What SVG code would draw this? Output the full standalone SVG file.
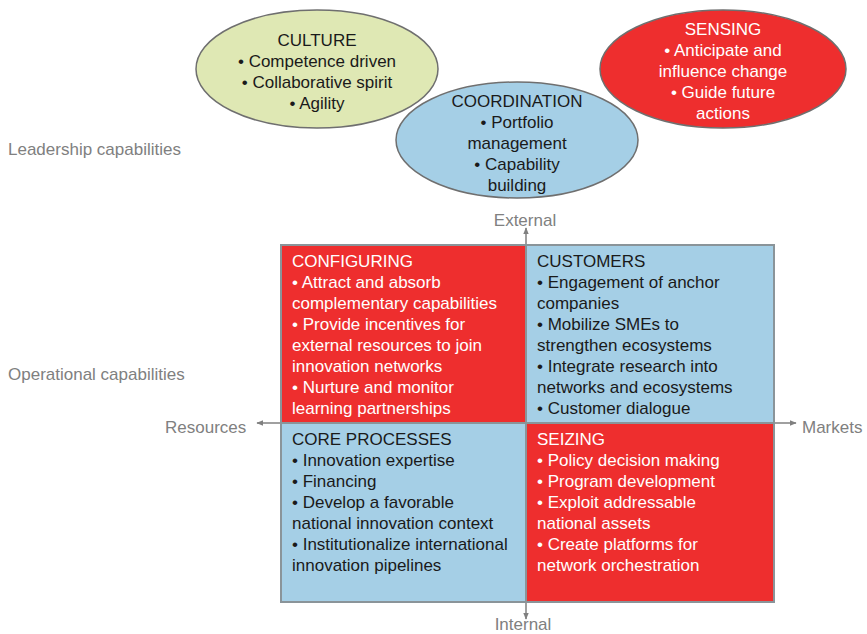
<svg xmlns="http://www.w3.org/2000/svg" width="867" height="634" viewBox="0 0 867 634">
  <defs>
    <marker id="arrow" viewBox="0 0 10 10" refX="9" refY="5" markerWidth="7" markerHeight="7" orient="auto" markerUnits="userSpaceOnUse">
      <path d="M0,1 L10,5 L0,9 z" fill="#808080"/>
    </marker>
    <style>
      text { font-family: "Liberation Sans", Arial, sans-serif; font-size: 17px; }
      .axis { fill: #808080; font-size: 17px; }
      .dark { fill: #1a1a1a; }
      .light { fill: #ffffff; }
      .mid { text-anchor: middle; }
      .ell { stroke: #6f6f6f; stroke-width: 1.5; }
      .quad { stroke: #8a9499; stroke-width: 2; }
      .red { fill: #ee2e2e; }
      .blue { fill: #a5cfe6; }
      .green { fill: #dfe8b4; }
    </style>
  </defs>
  <rect width="867" height="634" fill="#ffffff"/>

  <!-- side labels -->
  <text class="axis" x="8" y="155">Leadership capabilities</text>
  <text class="axis" x="8" y="380">Operational capabilities</text>

  <!-- leadership ellipses -->
  <g id="culture">
    <ellipse class="ell green" cx="317" cy="69" rx="121" ry="59"/>
    <text class="dark mid" x="317" y="46">CULTURE</text>
    <text class="dark mid" x="317" y="67">• Competence driven</text>
    <text class="dark mid" x="317" y="88">• Collaborative spirit</text>
    <text class="dark mid" x="317" y="109">• Agility</text>
  </g>
  <g id="sensing">
    <ellipse class="ell red" cx="723" cy="69" rx="123" ry="59"/>
    <text class="light mid" x="723" y="35">SENSING</text>
    <text class="light mid" x="723" y="56">• Anticipate and</text>
    <text class="light mid" x="723" y="77">influence change</text>
    <text class="light mid" x="723" y="98">• Guide future</text>
    <text class="light mid" x="723" y="119">actions</text>
  </g>
  <g id="coordination">
    <ellipse class="ell blue" cx="517" cy="140" rx="121" ry="58"/>
    <text class="dark mid" x="517" y="107">COORDINATION</text>
    <text class="dark mid" x="517" y="128">• Portfolio</text>
    <text class="dark mid" x="517" y="149">management</text>
    <text class="dark mid" x="517" y="170">• Capability</text>
    <text class="dark mid" x="517" y="191">building</text>
  </g>

  <!-- axes -->
  <g id="connectors" stroke="#808080" stroke-width="1.5" fill="none">
    <line x1="526" y1="423" x2="526" y2="228" marker-end="url(#arrow)"/>
    <line x1="526" y1="423" x2="526" y2="619" marker-end="url(#arrow)"/>
    <line x1="526" y1="423" x2="257" y2="423" marker-end="url(#arrow)"/>
    <line x1="526" y1="423" x2="796" y2="423" marker-end="url(#arrow)"/>
  </g>
  <text class="axis mid" x="525" y="226">External</text>
  <text class="axis mid" x="523" y="630">Internal</text>
  <text class="axis" x="165" y="433">Resources</text>
  <text class="axis" x="802" y="433">Markets</text>

  <!-- operational quadrants -->
  <g id="configuring">
    <rect class="quad red" x="281" y="245" width="245" height="178"/>
    <text class="light" x="292" y="267">CONFIGURING</text>
    <text class="light" x="292" y="288">• Attract and absorb</text>
    <text class="light" x="292" y="309">complementary capabilities</text>
    <text class="light" x="292" y="330">• Provide incentives for</text>
    <text class="light" x="292" y="351">external resources to join</text>
    <text class="light" x="292" y="372">innovation networks</text>
    <text class="light" x="292" y="393">• Nurture and monitor</text>
    <text class="light" x="292" y="414">learning partnerships</text>
  </g>
  <g id="customers">
    <rect class="quad blue" x="526" y="245" width="248" height="178"/>
    <text class="dark" x="537" y="267">CUSTOMERS</text>
    <text class="dark" x="537" y="288">• Engagement of anchor</text>
    <text class="dark" x="537" y="309">companies</text>
    <text class="dark" x="537" y="330">• Mobilize SMEs to</text>
    <text class="dark" x="537" y="351">strengthen ecosystems</text>
    <text class="dark" x="537" y="372">• Integrate research into</text>
    <text class="dark" x="537" y="393">networks and ecosystems</text>
    <text class="dark" x="537" y="414">• Customer dialogue</text>
  </g>
  <g id="core-processes">
    <rect class="quad blue" x="281" y="423" width="245" height="179"/>
    <text class="dark" x="292" y="445">CORE PROCESSES</text>
    <text class="dark" x="292" y="466">• Innovation expertise</text>
    <text class="dark" x="292" y="487">• Financing</text>
    <text class="dark" x="292" y="508">• Develop a favorable</text>
    <text class="dark" x="292" y="529">national innovation context</text>
    <text class="dark" x="292" y="550">• Institutionalize international</text>
    <text class="dark" x="292" y="571">innovation pipelines</text>
  </g>
  <g id="seizing">
    <rect class="quad red" x="526" y="423" width="248" height="179"/>
    <text class="light" x="537" y="445">SEIZING</text>
    <text class="light" x="537" y="466">• Policy decision making</text>
    <text class="light" x="537" y="487">• Program development</text>
    <text class="light" x="537" y="508">• Exploit addressable</text>
    <text class="light" x="537" y="529">national assets</text>
    <text class="light" x="537" y="550">• Create platforms for</text>
    <text class="light" x="537" y="571">network orchestration</text>
  </g>
</svg>
